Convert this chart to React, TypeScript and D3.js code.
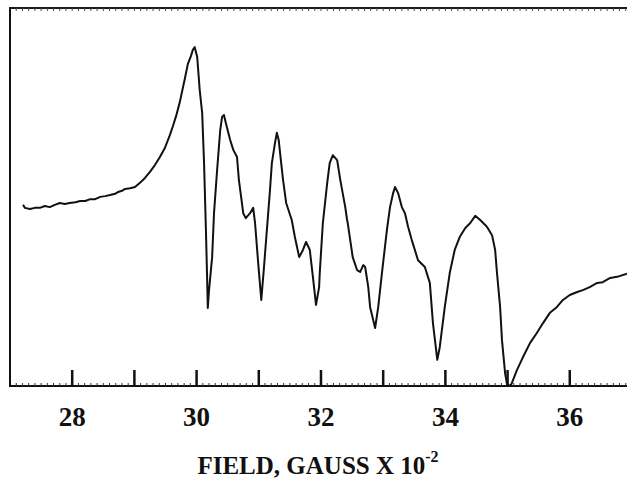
import React, { useEffect, useRef } from "react";
import * as d3 from "d3";

// magnetic field, gauss x 10^-2
const field = [
  27.21, 27.24, 27.32, 27.4, 27.48, 27.56, 27.64, 27.72, 27.8, 27.88, 27.96, 28.05, 28.13, 28.21, 28.29,
  28.37, 28.45, 28.53, 28.61, 28.69, 28.74, 28.8, 28.85, 28.93, 29.01, 29.09, 29.17, 29.25, 29.33, 29.41,
  29.49, 29.57, 29.62, 29.67, 29.73, 29.81, 29.86, 29.91, 29.94, 29.97, 30.01, 30.05, 30.09, 30.12, 30.15,
  30.17, 30.18, 30.2, 30.25, 30.28, 30.33, 30.38, 30.41, 30.44, 30.47, 30.54, 30.59, 30.65, 30.68, 30.75,
  30.79, 30.86, 30.91, 30.94, 30.99, 31.04, 31.08, 31.13, 31.18, 31.21, 31.26, 31.29, 31.32, 31.36, 31.39,
  31.44, 31.53, 31.58, 31.65, 31.71, 31.76, 31.82, 31.87, 31.92, 31.97, 31.98, 32.03, 32.1, 32.14, 32.19,
  32.26, 32.31, 32.39, 32.42, 32.43, 32.47, 32.51, 32.58, 32.63, 32.68, 32.71, 32.76, 32.79, 32.87, 32.92,
  32.98, 33.06, 33.11, 33.16, 33.19, 33.24, 33.3, 33.35, 33.4, 33.46, 33.56, 33.67, 33.75, 33.8, 33.87,
  33.91, 33.99, 34.07, 34.15, 34.23, 34.32, 34.4, 34.48, 34.56, 34.64, 34.68, 34.75, 34.8, 34.83, 34.88,
  34.91, 34.96, 34.99, 35.04, 35.07, 35.15, 35.25, 35.36, 35.47, 35.57, 35.68, 35.79, 35.89, 36.0, 36.12,
  36.21, 36.32, 36.44, 36.53, 36.65, 36.76, 36.92,
];

// derivative signal, arbitrary units
const signal = [
  47.8, 47.0, 46.7, 47.0, 47.0, 47.5, 47.2, 47.8, 48.3, 48.0, 48.3, 48.5, 48.8, 48.8, 49.3,
  49.3, 49.9, 50.1, 50.4, 50.7, 51.2, 51.5, 52.0, 52.2, 52.5, 53.6, 54.9, 56.5, 58.3, 60.4,
  62.8, 66.2, 68.6, 71.2, 74.9, 81.0, 85.0, 87.1, 88.7, 89.4, 86.8, 78.1, 72.0, 58.8, 41.2,
  28.0, 20.6, 25.3, 34.0, 45.6, 57.0, 67.5, 71.0, 71.5, 69.4, 64.9, 62.3, 60.4, 54.4, 45.6,
  44.3, 45.6, 47.0, 43.0, 32.5, 22.7, 30.6, 41.2, 51.7, 58.8, 64.1, 66.8, 64.9, 58.8, 54.4,
  48.3, 43.8, 39.3, 34.0, 35.9, 38.0, 35.9, 28.8, 21.4, 26.1, 29.8, 43.0, 53.6, 58.8, 60.9,
  59.6, 54.4, 47.2, 43.8, 43.0, 38.5, 34.0, 30.6, 30.1, 31.9, 31.4, 26.1, 20.8, 15.3, 20.8,
  29.8, 41.2, 47.2, 50.9, 52.5, 50.9, 47.2, 45.6, 42.0, 38.5, 33.2, 31.4, 27.2, 16.6, 6.9,
  10.3, 20.8, 29.8, 35.9, 39.3, 41.7, 43.0, 44.9, 43.8, 42.5, 41.7, 39.8, 35.9, 29.8, 20.8,
  12.1, 3.4, 0.5, 0, 0.8, 4.2, 7.7, 11.3, 14.0, 16.6, 19.3, 20.8, 22.7, 24.0, 24.8,
  25.3, 26.1, 27.2, 27.4, 28.5, 28.8, 29.6,
];

const tickValues = [28, 29, 30, 31, 32, 33, 34, 35, 36];
const tickLabels = [28, 30, 32, 34, 36];

const EprChart = () => {
  const chartRef = useRef(null);

  useEffect(() => {
    const width = 627;
    const height = 480;
    const left = 10;
    const frameTop = 7;
    const bottom = 386;
    const font = "'Liberation Serif', 'Times New Roman', serif";

    document.body.style.margin = "0";
    d3.select(chartRef.current).select("svg").remove();

    const svg = d3
      .select(chartRef.current)
      .append("svg")
      .attr("width", width)
      .attr("height", height)
      .style("display", "block")
      .style("background", "#fff");

    const x = d3.scaleLinear().domain([27, 36.92]).range([left, width]);
    const y = d3.scaleLinear().domain([0, 100]).range([bottom, 7]);

    // frame: left, top, bottom
    svg.append("rect")
      .attr("x", left - 1).attr("y", frameTop)
      .attr("width", 2).attr("height", bottom - frameTop)
      .attr("fill", "#111");
    svg.append("rect")
      .attr("x", left - 1).attr("y", frameTop)
      .attr("width", width - left + 1).attr("height", 2)
      .attr("fill", "#1a1a1a");
    svg.append("rect")
      .attr("x", left - 1).attr("y", bottom - 1)
      .attr("width", width - left + 1).attr("height", 2)
      .attr("fill", "#111");

    // minor ticks every 0.1 on top and bottom
    const minor = d3.range(271, 370).map((d) => d / 10);
    svg.append("g")
      .selectAll("line")
      .data(minor)
      .enter()
      .append("line")
      .attr("x1", (d) => x(d)).attr("x2", (d) => x(d))
      .attr("y1", bottom).attr("y2", bottom - 3)
      .attr("stroke", "#333").attr("stroke-width", 1);
    svg.append("g")
      .selectAll("line")
      .data(minor)
      .enter()
      .append("line")
      .attr("x1", (d) => x(d)).attr("x2", (d) => x(d))
      .attr("y1", frameTop + 1).attr("y2", frameTop + 4)
      .attr("stroke", "#444").attr("stroke-width", 1);

    // major ticks
    svg.append("g")
      .selectAll("line")
      .data(tickValues)
      .enter()
      .append("line")
      .attr("x1", (d) => x(d)).attr("x2", (d) => x(d))
      .attr("y1", bottom).attr("y2", bottom - 16)
      .attr("stroke", "#111").attr("stroke-width", 2.5);

    svg.append("g")
      .selectAll("text")
      .data(tickLabels)
      .enter()
      .append("text")
      .attr("x", (d) => x(d))
      .attr("y", 426)
      .attr("text-anchor", "middle")
      .attr("font-family", font)
      .attr("font-weight", "bold")
      .attr("font-size", 27)
      .attr("fill", "#111")
      .text((d) => d);

    const title = svg.append("text")
      .attr("x", 318)
      .attr("y", 474)
      .attr("text-anchor", "middle")
      .attr("font-family", font)
      .attr("font-weight", "bold")
      .attr("font-size", 25)
      .attr("fill", "#111");
    title.append("tspan").text("FIELD, GAUSS X 10");
    title.append("tspan").attr("dy", -12).attr("font-size", 16).text("-2");

    const line = d3
      .line()
      .x((d, i) => x(field[i]))
      .y((d) => y(d));

    svg.append("path")
      .datum(signal)
      .attr("d", line)
      .attr("fill", "none")
      .attr("stroke", "#111")
      .attr("stroke-width", 2)
      .attr("stroke-linejoin", "round");
  }, []);

  return <div ref={chartRef}></div>;
};

export default function App() {
  return <EprChart />;
}
